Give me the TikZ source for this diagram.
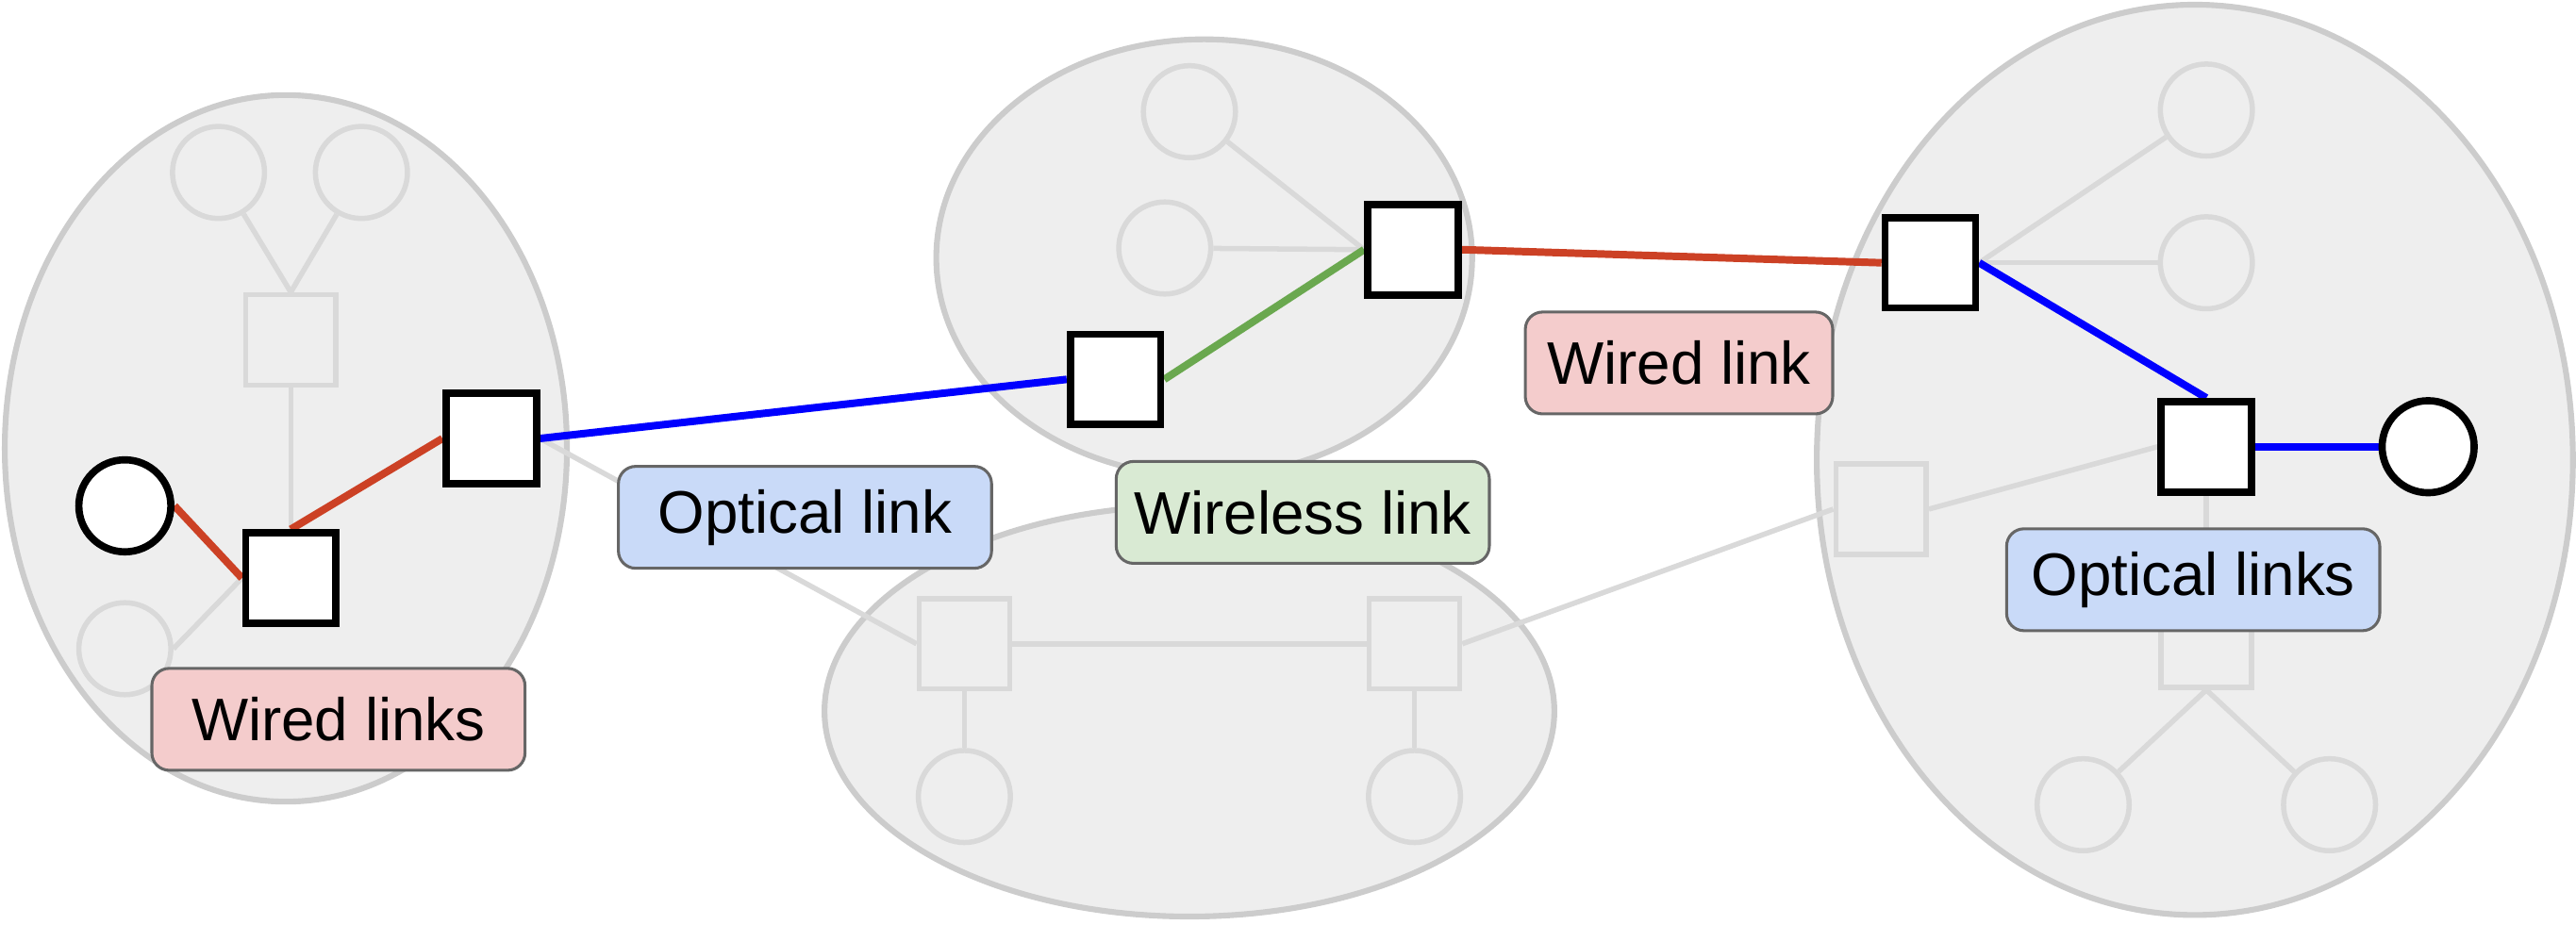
\documentclass[tikz,border=0pt]{standalone}
\usepackage{fontspec}
\setmainfont{Liberation Sans}
\usetikzlibrary{backgrounds}
\definecolor{clusterfill}{HTML}{EEEEEE}
\definecolor{clusterline}{HTML}{CCCCCC}
\definecolor{faint}{HTML}{D9D9D9}
\definecolor{wiredred}{HTML}{CC4125}
\definecolor{opticblue}{HTML}{0000FF}
\definecolor{radiogreen}{HTML}{6AA84F}
\definecolor{wiredfill}{HTML}{F4CCCC}
\definecolor{opticfill}{HTML}{C9DAF8}
\definecolor{radiofill}{HTML}{D9EAD3}
\definecolor{tagline}{HTML}{666666}
\begin{document}
\begin{tikzpicture}[x=0.01cm,y=-0.01cm,
  cluster/.style={draw=clusterline,fill=clusterfill,line width=1pt},
  faintlink/.style={faint,line width=0.9pt},
  faintsw/.style={draw=faint,line width=0.9pt,minimum size=0.55cm,inner sep=0pt},
  fainthost/.style={circle,draw=faint,line width=0.9pt,minimum size=0.56cm,inner sep=0pt},
  sw/.style={draw=black,fill=white,line width=1.25pt,minimum size=0.55cm,inner sep=0pt},
  host/.style={circle,draw=black,fill=white,line width=1.25pt,minimum size=0.56cm,inner sep=0pt},
  wired/.style={wiredred,line width=1.3pt},
  optic/.style={opticblue,line width=1.3pt},
  radio/.style={radiogreen,line width=1.3pt},
  tag/.style={draw=tagline,rounded corners=3pt,line width=0.5pt,minimum width=2.27cm,minimum height=0.62cm,inner sep=0pt,font=\fontsize{10.4}{12}\selectfont}]
\useasboundingbox (0,0) rectangle (1568,563);
\node[fainthost] (lc1) at (133,105) {};
\node[fainthost] (lc2) at (220,105) {};
\node[faintsw] (lsq) at (177,207) {};
\node[fainthost] (lc3) at (76,395) {};
\node[fainthost] (tc1) at (724,68) {};
\node[fainthost] (tc2) at (709,151) {};
\node[faintsw] (bsa) at (587,392) {};
\node[faintsw] (bsb) at (861,392) {};
\node[fainthost] (bca) at (587,485) {};
\node[fainthost] (bcb) at (861,485) {};
\node[fainthost] (rc1) at (1343,67) {};
\node[fainthost] (rc2) at (1343,160) {};
\node[faintsw] (rsq) at (1145,310) {};
\node[faintsw] (rsq2) at (1343,391) {};
\node[fainthost] (rc3) at (1268,490) {};
\node[fainthost] (rc4) at (1418,490) {};
\node[host] (lhost) at (76,308) {};
\node[sw] (la) at (177,352) {};
\node[sw] (lb) at (299,267) {};
\node[sw] (ta) at (679,231) {};
\node[sw] (tb) at (860,152) {};
\node[sw] (ra) at (1175,160) {};
\node[sw] (rb) at (1343,272) {};
\node[host] (rhost) at (1478,272) {};
\begin{pgfonlayer}{background}
\draw[cluster] (174,273) ellipse [x radius=1.71cm, y radius=2.15cm];
\draw[cluster] (733,157) ellipse [x radius=1.63cm, y radius=1.33cm];
\draw[cluster] (724,433) ellipse [x radius=2.22cm, y radius=1.25cm];
\draw[cluster] (1336,280) ellipse [x radius=2.30cm, y radius=2.77cm];
\draw[faintlink] (lc1) -- (lsq.north);
\draw[faintlink] (lc2) -- (lsq.north);
\draw[faintlink] (lsq) -- (la.north);
\draw[faintlink] (lc3.east) -- (la.west);
\draw[faintlink] (lb.east) -- (bsa.west);
\draw[faintlink] (tc1) -- (tb.west);
\draw[faintlink] (tc2) -- (tb.west);
\draw[faintlink] (bsa) -- (bsb);
\draw[faintlink] (bsa) -- (bca);
\draw[faintlink] (bsb) -- (bcb);
\draw[faintlink] (bsb.east) -- (rsq.west);
\draw[faintlink] (ra.east) -- (rc1);
\draw[faintlink] (ra.east) -- (rc2);
\draw[faintlink] (rsq.east) -- (rb.west);
\draw[faintlink] (rb) -- (rsq2);
\draw[faintlink] (rsq2.south) -- (rc3);
\draw[faintlink] (rsq2.south) -- (rc4);
\draw[wired] (lhost.east) -- (la.west);
\draw[wired] (la.north) -- (lb.west);
\draw[optic] (lb.east) -- (ta.west);
\draw[radio] (ta.east) -- (tb.west);
\draw[wired] (tb.east) -- (ra.west);
\draw[optic] (ra.east) -- (rb.north);
\draw[optic] (rb.east) -- (rhost.west);
\end{pgfonlayer}
\node[tag,fill=wiredfill] (wiredL) at (206,438) {Wired links};
\node[tag,fill=opticfill] (opticL) at (490,315) {Optical link};
\node[tag,fill=radiofill] (radioL) at (793,312) {Wireless link};
\node[tag,fill=wiredfill,minimum width=1.87cm] (wiredR) at (1022,221) {Wired link};
\node[tag,fill=opticfill] (opticR) at (1335,353) {Optical links};
\end{tikzpicture}
\end{document}
